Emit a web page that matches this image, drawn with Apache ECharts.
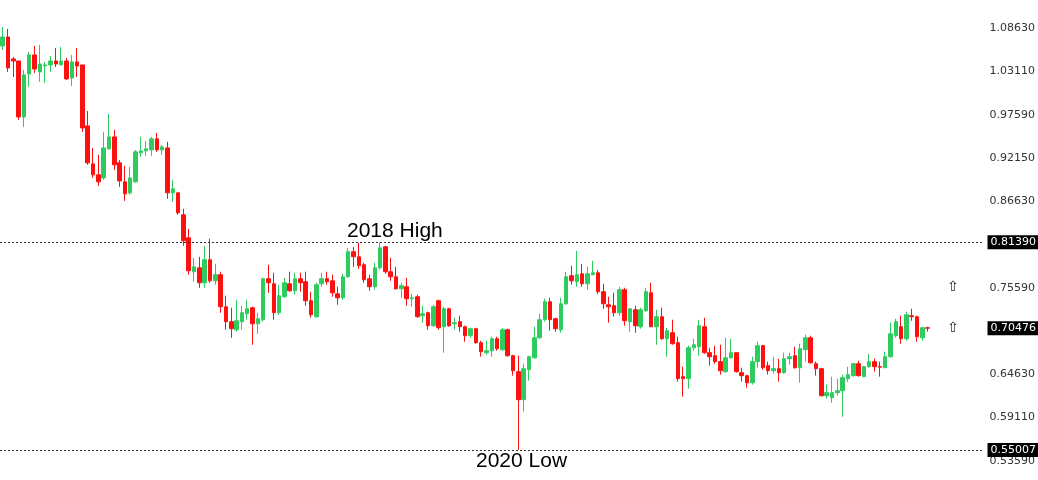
<!DOCTYPE html>
<html><head><meta charset="utf-8">
<script src="https://cdn.jsdelivr.net/npm/echarts@6/dist/echarts.min.js"></script>
<style>html,body{margin:0;padding:0;background:#fff}#c{width:1038px;height:480px}</style>
</head><body><div id="c"></div>
<script>
// [open, close, low, high]
const candles = [
[1.0635,1.0749,1.0584,1.0876],[1.0749,1.0355,1.0305,1.0851],[1.0470,1.0444,1.0241,1.0495],[1.0444,0.9733,0.9695,1.0444],
[0.9733,1.0267,0.9606,1.0330],[1.0279,1.0521,1.0114,1.0559],[1.0521,1.0343,1.0292,1.0635],[1.0305,1.0406,1.0178,1.0648],
[1.0381,1.0394,1.0165,1.0432],[1.0394,1.0444,1.0305,1.0508],[1.0444,1.0406,1.0368,1.0609],[1.0394,1.0444,1.0394,1.0622],
[1.0444,1.0216,1.0203,1.0482],[1.0228,1.0432,1.0127,1.0521],[1.0432,1.0381,1.0241,1.0609],[1.0394,0.9593,0.9543,1.0394],
[0.9619,0.9149,0.9124,0.9809],[0.9136,0.8997,0.8958,0.9339],[0.8997,0.8908,0.8857,0.9251],[0.8958,0.9339,0.8933,0.9543],
[0.9327,0.9479,0.9314,0.9771],[0.9479,0.9124,0.9060,0.9568],[0.9149,0.8920,0.8844,0.9187],[0.8908,0.8755,0.8666,0.9111],
[0.8768,0.8958,0.8743,0.9098],[0.8908,0.9289,0.8895,0.9314],[0.9276,0.9301,0.9225,0.9479],[0.9301,0.9327,0.9238,0.9428],
[0.9314,0.9454,0.9238,0.9479],[0.9454,0.9314,0.9289,0.9530],[0.9314,0.9352,0.9251,0.9378],[0.9339,0.8768,0.8692,0.9416],
[0.8768,0.8819,0.8654,0.8933],[0.8768,0.8514,0.8489,0.8781],[0.8489,0.8158,0.8095,0.8565],[0.8196,0.7777,0.7727,0.8311],
[0.7765,0.7828,0.7638,0.7942],[0.7815,0.7625,0.7561,0.7955],[0.7625,0.7917,0.7561,0.8095],[0.7917,0.7650,0.7625,0.8184],
[0.7650,0.7727,0.7600,0.7866],[0.7727,0.7320,0.7244,0.7765],[0.7320,0.7130,0.7028,0.7460],[0.7130,0.7041,0.6926,0.7307],
[0.7028,0.7142,0.7003,0.7409],[0.7130,0.7244,0.7028,0.7333],[0.7231,0.7295,0.7155,0.7409],[0.7307,0.7104,0.6837,0.7320],
[0.7104,0.7168,0.6977,0.7244],[0.7155,0.7676,0.7130,0.7688],[0.7676,0.7625,0.7498,0.7854],[0.7612,0.7244,0.7155,0.7752],
[0.7244,0.7460,0.7218,0.7600],[0.7447,0.7625,0.7434,0.7688],[0.7612,0.7523,0.7511,0.7765],[0.7523,0.7676,0.7473,0.7752],
[0.7676,0.7625,0.7511,0.7752],[0.7638,0.7396,0.7333,0.7765],[0.7396,0.7218,0.7180,0.7511],[0.7193,0.7600,0.7180,0.7625],
[0.7612,0.7676,0.7574,0.7752],[0.7676,0.7638,0.7600,0.7765],[0.7650,0.7498,0.7447,0.7727],[0.7485,0.7434,0.7345,0.7574],
[0.7434,0.7701,0.7409,0.7739],[0.7701,0.8019,0.7688,0.8069],[0.8019,0.7955,0.7828,0.8082],[0.7955,0.7841,0.7803,0.8133],
[0.7854,0.7663,0.7625,0.7879],[0.7676,0.7574,0.7523,0.7727],[0.7574,0.7815,0.7536,0.7879],[0.7815,0.8069,0.7790,0.8139],
[0.8082,0.7765,0.7739,0.8095],[0.7765,0.7701,0.7650,0.7942],[0.7701,0.7549,0.7536,0.7828],[0.7549,0.7587,0.7434,0.7625],
[0.7574,0.7422,0.7333,0.7688],[0.7422,0.7434,0.7320,0.7485],[0.7447,0.7193,0.7180,0.7473],[0.7206,0.7231,0.7117,0.7333],
[0.7244,0.7079,0.7028,0.7257],[0.7079,0.7320,0.7066,0.7345],[0.7396,0.7053,0.7028,0.7409],[0.7066,0.7295,0.6736,0.7320],
[0.7295,0.7079,0.7066,0.7307],[0.7104,0.7117,0.7028,0.7180],[0.7130,0.7066,0.7003,0.7206],[0.7066,0.6952,0.6876,0.7079],
[0.6952,0.7041,0.6926,0.7053],[0.7041,0.6863,0.6850,0.7053],[0.6863,0.6749,0.6685,0.6888],[0.6736,0.6761,0.6710,0.6888],
[0.6761,0.6914,0.6685,0.6939],[0.6914,0.6787,0.6761,0.6939],[0.6774,0.7028,0.6761,0.7053],[0.7028,0.6698,0.6685,0.7041],
[0.6698,0.6507,0.6444,0.6710],[0.6495,0.6139,0.5501,0.6698],[0.6139,0.6533,0.5987,0.6596],[0.6520,0.6685,0.6380,0.6698],
[0.6672,0.6926,0.6660,0.7066],[0.6926,0.7155,0.6914,0.7231],[0.7155,0.7384,0.7130,0.7422],[0.7384,0.7155,0.7015,0.7434],
[0.7168,0.7041,0.7003,0.7180],[0.7028,0.7358,0.6990,0.7434],[0.7358,0.7701,0.7345,0.7765],[0.7714,0.7650,0.7600,0.7841],
[0.7638,0.7727,0.7574,0.8031],[0.7739,0.7612,0.7574,0.7866],[0.7612,0.7739,0.7536,0.7828],[0.7727,0.7752,0.7727,0.7904],
[0.7752,0.7511,0.7485,0.7790],[0.7511,0.7358,0.7295,0.7612],[0.7345,0.7320,0.7117,0.7447],[0.7333,0.7244,0.7193,0.7498],
[0.7244,0.7536,0.7206,0.7574],[0.7536,0.7142,0.7079,0.7561],[0.7130,0.7295,0.7003,0.7295],[0.7282,0.7079,0.6990,0.7333],
[0.7066,0.7282,0.7041,0.7307],[0.7269,0.7511,0.7257,0.7561],[0.7498,0.7066,0.7066,0.7625],[0.7066,0.7193,0.6837,0.7282],
[0.7193,0.6914,0.6901,0.7307],[0.6914,0.7015,0.6685,0.7053],[0.6990,0.6850,0.6837,0.7155],[0.6863,0.6406,0.6368,0.6939],
[0.6431,0.6406,0.6177,0.6558],[0.6406,0.6799,0.6279,0.6825],[0.6799,0.6837,0.6761,0.6914],[0.6812,0.7079,0.6698,0.7155],
[0.7066,0.6736,0.6723,0.7180],[0.6736,0.6685,0.6571,0.6799],[0.6698,0.6622,0.6596,0.6825],[0.6622,0.6507,0.6457,0.6837],
[0.6495,0.6672,0.6482,0.6926],[0.6672,0.6736,0.6660,0.6914],[0.6736,0.6495,0.6482,0.6736],[0.6482,0.6444,0.6368,0.6545],
[0.6444,0.6355,0.6291,0.6457],[0.6355,0.6622,0.6330,0.6685],[0.6622,0.6825,0.6545,0.6876],[0.6825,0.6545,0.6520,0.6837],
[0.6571,0.6507,0.6457,0.6622],[0.6507,0.6533,0.6469,0.6685],[0.6533,0.6482,0.6368,0.6660],[0.6482,0.6660,0.6469,0.6736],
[0.6660,0.6685,0.6584,0.6736],[0.6698,0.6545,0.6533,0.6812],[0.6545,0.6787,0.6355,0.6850],[0.6774,0.6926,0.6622,0.6964],
[0.6926,0.6609,0.6596,0.6952],[0.6596,0.6533,0.6444,0.6622],[0.6533,0.6190,0.6177,0.6545],[0.6190,0.6228,0.6152,0.6330],
[0.6164,0.6228,0.6101,0.6431],[0.6228,0.6253,0.6190,0.6406],[0.6253,0.6418,0.5923,0.6457],[0.6406,0.6457,0.6368,0.6558],
[0.6444,0.6596,0.6431,0.6609],[0.6596,0.6444,0.6431,0.6634],[0.6431,0.6558,0.6431,0.6571],[0.6558,0.6622,0.6545,0.6723],
[0.6622,0.6558,0.6495,0.6660],[0.6558,0.6552,0.6431,0.6622],[0.6545,0.6685,0.6545,0.6749],[0.6685,0.6977,0.6672,0.7117],
[0.6952,0.7130,0.6926,0.7168],[0.7066,0.6914,0.6850,0.7206],[0.6914,0.7218,0.6888,0.7257],[0.7206,0.7193,0.7142,0.7295],
[0.7193,0.6939,0.6876,0.7206],[0.6926,0.7053,0.6888,0.7066],[0.7053,0.70476,0.7003,0.7066]
];
const emptySlots = 10;
const tickLabels = [1.0863,1.0311,0.9759,0.9215,0.8663,0.7559,0.6463,0.5911,0.5359];
const high2018 = 0.8139;
const low2020 = 0.55007;
const lastPrice = 0.70476;

const categories = [];
for (let i = 0; i < candles.length + emptySlots; i++) categories.push(String(i + 1));

const chart = echarts.init(document.getElementById('c'), null, {renderer:'canvas'});
const boxLabel = txt => ({show:true, position:'end', distance:4, color:'#fff', backgroundColor:'#000',
  padding:[2,3,1,3], fontSize:11, fontFamily:'DejaVu Sans', formatter:txt});
chart.setOption({
  animation:false,
  grid:{left:0, right:43, top:10, bottom:10},
  xAxis:{type:'category', data:categories, boundaryGap:true, show:false},
  yAxis:{type:'value', position:'right', min:0.5245, max:1.1092, scale:true,
    axisLine:{show:false}, axisTick:{show:false}, splitLine:{show:false},
    axisLabel:{customValues:tickLabels, formatter:v=>v.toFixed(5), color:'#333',
      fontSize:11, fontFamily:'DejaVu Sans', margin:6}},
  series:[{
    type:'candlestick', data:candles, barMaxWidth:4, barWidth:4,
    itemStyle:{color:'#2ecc5f', color0:'#ff1010', borderColor:'#2ecc5f', borderColor0:'#ff1010', borderWidth:1},
    markLine:{symbol:'none', silent:true, animation:false, precision:5,
      data:[
        {yAxis:high2018, lineStyle:{type:[2,2], color:'#333', width:1}, label:boxLabel(high2018.toFixed(5))},
        {yAxis:low2020, lineStyle:{type:[2,2], color:'#333', width:1}, label:boxLabel(low2020.toFixed(5))},
        {yAxis:lastPrice, lineStyle:{color:'rgba(0,0,0,0)', width:0.1}, label:boxLabel(lastPrice.toFixed(5))}
      ]}
  }],
  graphic:[
    {type:'text', left:347, top:221, style:{text:'2018 High', font:'21px "Liberation Sans", Arial', fill:'#000'}},
    {type:'text', left:476, top:451, style:{text:'2020 Low', font:'21px "Liberation Sans", Arial', fill:'#000'}},
    {type:'text', left:947, top:280, style:{text:'⇧', font:'14px "DejaVu Sans"', fill:'#222'}},
    {type:'text', left:947, top:321, style:{text:'⇧', font:'14px "DejaVu Sans"', fill:'#222'}}
  ]
});
</script></body></html>
